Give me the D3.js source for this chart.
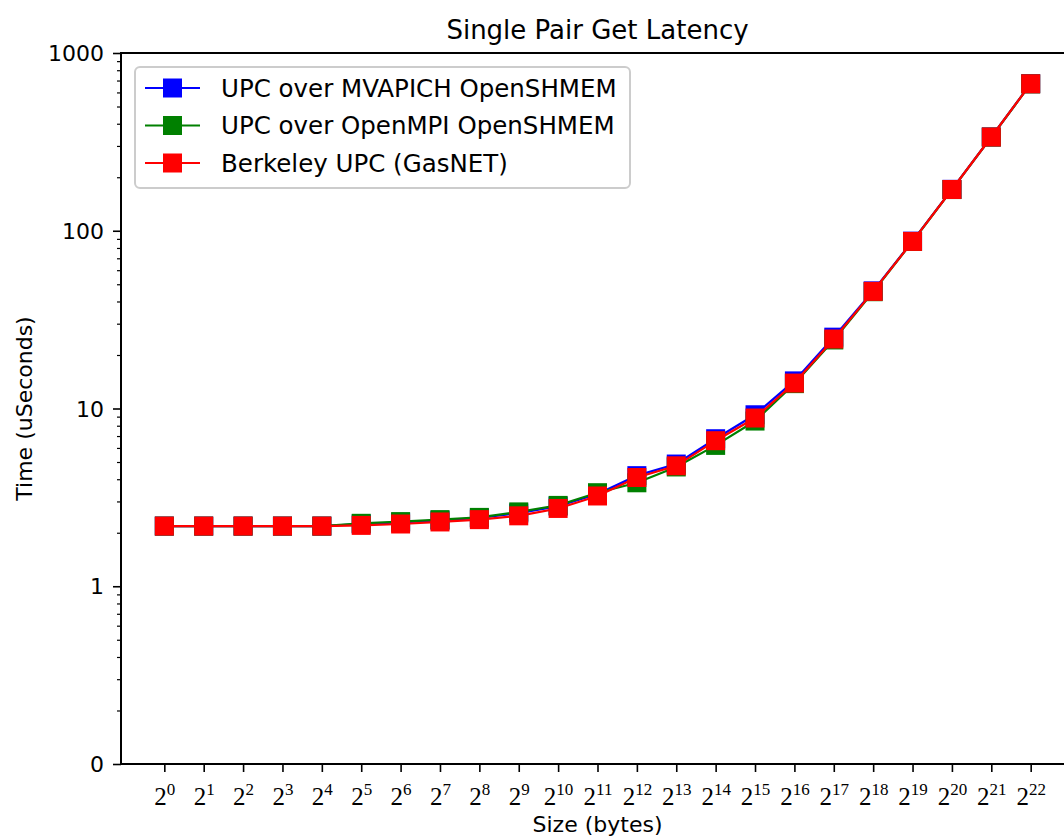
<!DOCTYPE html>
<html>
<head>
<meta charset="utf-8">
<script src="https://cdn.jsdelivr.net/npm/d3@7/dist/d3.min.js"></script>
<style>
  body { margin: 0; background: #fff; }
  text { font-family: "DejaVu Sans", sans-serif; fill: #000; }
</style>
</head>
<body>
<div id="chart"></div>
<script>
// message size exponents (2^n bytes)
const exponents = [0, 1, 2, 3, 4, 5, 6, 7, 8, 9, 10, 11, 12, 13, 14, 15, 16, 17, 18, 19, 20, 21, 22];

// latency in microseconds
const mvapich = [2.18, 2.18, 2.18, 2.18, 2.18, 2.24, 2.29, 2.35, 2.42, 2.58, 2.82, 3.30, 4.19, 4.87, 6.76, 9.22, 14.3, 25.2, 45.9, 87.4, 171, 337, 672];
const openmpi = [2.18, 2.18, 2.18, 2.18, 2.18, 2.26, 2.31, 2.37, 2.44, 2.62, 2.85, 3.36, 3.82, 4.69, 6.20, 8.50, 13.8, 24.3, 45.4, 87.0, 170.5, 336.5, 670];
const gasnet  = [2.18, 2.18, 2.18, 2.18, 2.18, 2.20, 2.24, 2.30, 2.37, 2.49, 2.74, 3.22, 4.09, 4.76, 6.59, 8.84, 13.9, 24.6, 45.6, 87.1, 170.7, 336.8, 671];

const seriesNames = ["UPC over MVAPICH OpenSHMEM", "UPC over OpenMPI OpenSHMEM", "Berkeley UPC (GasNET)"];
const seriesColors = ["#0000ff", "#008000", "#ff0000"];

const yTickValues = [0.1, 1, 10, 100, 1000];
const yTickLabels = ["0", "1", "10", "100", "1000"];

const width = 1064, height = 840;
const margin = {top: 53, left: 121, bottom: 76, right: -10};

const svg = d3.select("#chart").append("svg")
  .attr("width", width)
  .attr("height", height);

const x = d3.scaleLinear()
  .domain([-1.1, 23.1])
  .range([margin.left, width - margin.right]);

const y = d3.scaleLog()
  .domain([0.1, 1000])
  .range([height - margin.bottom, margin.top]);

// minor ticks on the log axis
const minorTicks = [];
[0.1, 1, 10, 100].forEach(d => {
  for (let k = 2; k <= 9; k++) minorTicks.push(d * k);
});

const yAxis = svg.append("g")
  .attr("transform", `translate(${margin.left},0)`)
  .call(d3.axisLeft(y).tickValues(yTickValues).tickSize(8).tickPadding(9)
    .tickFormat((d, i) => yTickLabels[i]));
yAxis.select(".domain").remove();
yAxis.selectAll("line").attr("stroke-width", 1.6);
yAxis.selectAll("text").style("font-size", "22px").attr("dy", "0.35em");

const yMinor = svg.append("g")
  .attr("transform", `translate(${margin.left},0)`)
  .call(d3.axisLeft(y).tickValues(minorTicks).tickSize(4).tickFormat(""));
yMinor.select(".domain").remove();
yMinor.selectAll("line").attr("stroke-width", 1.2);

const xAxis = svg.append("g")
  .attr("transform", `translate(0,${height - margin.bottom})`)
  .call(d3.axisBottom(x).tickValues(exponents).tickSize(8).tickFormat(""));
xAxis.select(".domain").remove();
xAxis.selectAll("line").attr("stroke-width", 1.6);

xAxis.selectAll(".tick").append("text")
  .attr("y", 41)
  .attr("text-anchor", "middle")
  .style("font-family", "'Liberation Serif', 'DejaVu Serif', serif")
  .style("font-size", "25px")
  .each(function(d) {
    const t = d3.select(this);
    t.append("tspan").text("2");
    t.append("tspan").attr("dy", -10).style("font-size", "17px").text(d);
  });

// spines
const x0 = margin.left, x1 = width - margin.right;
const y0 = height - margin.bottom, y1 = margin.top;
svg.append("path")
  .attr("d", `M${x0},${y1}L${x1},${y1}L${x1},${y0}L${x0},${y0}Z`)
  .attr("fill", "none")
  .attr("stroke", "#000")
  .attr("stroke-width", 2);

// series
const allSeries = [mvapich, openmpi, gasnet];
const line = d3.line()
  .x((d, i) => x(exponents[i]))
  .y(d => y(d));

allSeries.forEach((vals, s) => {
  const g = svg.append("g");
  g.append("path")
    .datum(vals)
    .attr("d", line)
    .attr("fill", "none")
    .attr("stroke", seriesColors[s])
    .attr("stroke-width", 2.2);
  g.selectAll("rect")
    .data(vals)
    .enter().append("rect")
    .attr("x", (d, i) => x(exponents[i]) - 9.5)
    .attr("y", d => y(d) - 9.5)
    .attr("width", 19)
    .attr("height", 19)
    .attr("fill", seriesColors[s]);
});

// title and axis labels
svg.append("text")
  .attr("x", (x0 + x1) / 2)
  .attr("y", 39)
  .attr("text-anchor", "middle")
  .style("font-size", "26px")
  .text("Single Pair Get Latency");

svg.append("text")
  .attr("x", (x0 + x1) / 2)
  .attr("y", 832)
  .attr("text-anchor", "middle")
  .style("font-size", "22px")
  .text("Size (bytes)");

svg.append("text")
  .attr("transform", `translate(32,${(y0 + y1) / 2}) rotate(-90)`)
  .attr("text-anchor", "middle")
  .style("font-size", "22px")
  .text("Time (uSeconds)");

// legend
const legend = svg.append("g").attr("transform", "translate(135,67)");
legend.append("rect")
  .attr("width", 495)
  .attr("height", 121)
  .attr("rx", 5)
  .attr("fill", "#fff")
  .attr("fill-opacity", 0.8)
  .attr("stroke", "#cccccc")
  .attr("stroke-width", 2);

seriesNames.forEach((name, s) => {
  const row = legend.append("g").attr("transform", `translate(0,${21 + s * 37.5})`);
  row.append("line")
    .attr("x1", 10).attr("x2", 65)
    .attr("stroke", seriesColors[s])
    .attr("stroke-width", 2.2);
  row.append("rect")
    .attr("x", 28).attr("y", -9.5)
    .attr("width", 19).attr("height", 19)
    .attr("fill", seriesColors[s]);
  row.append("text")
    .attr("x", 86)
    .attr("dy", "0.35em")
    .style("font-size", "24.5px")
    .text(name);
});
</script>
</body>
</html>
